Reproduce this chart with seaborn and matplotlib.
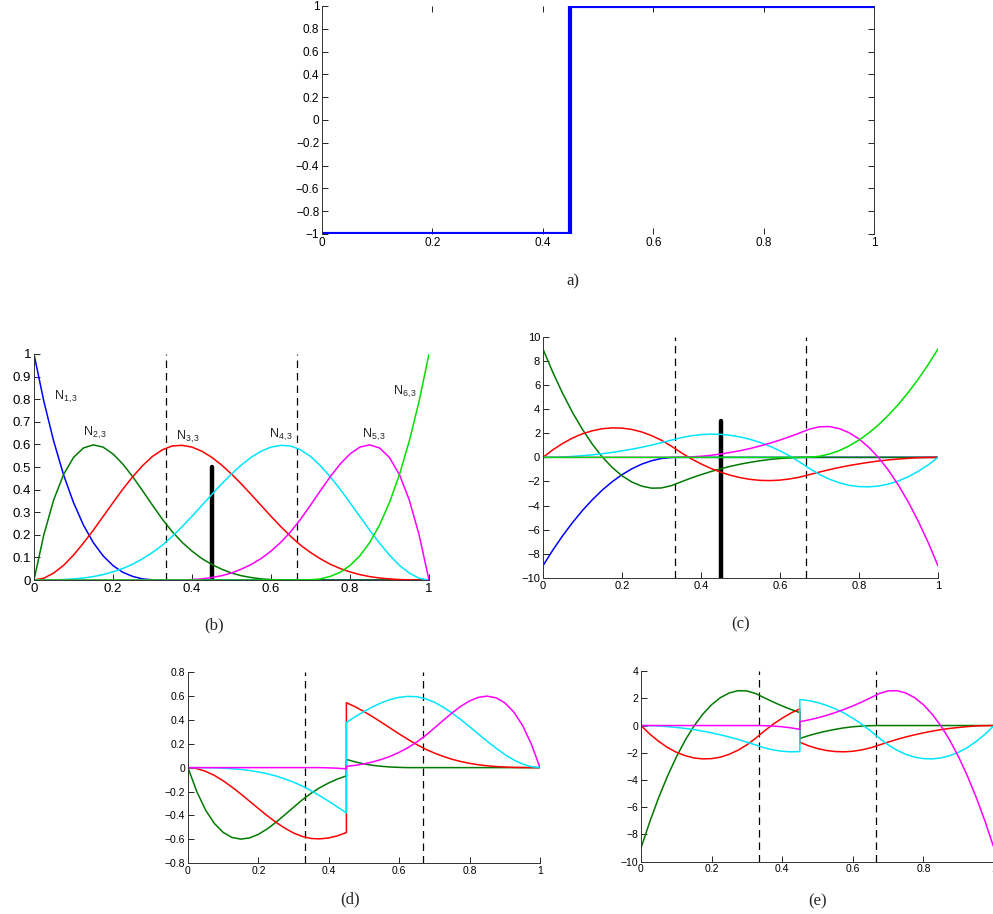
import matplotlib
matplotlib.use("Agg")
import matplotlib.pyplot as plt
import matplotlib.ticker as mticker
import numpy as np
import seaborn as sns

# Sample positions (step 0.025)
x_grid = [0.000, 0.025, 0.050, 0.075, 0.100, 0.125, 0.150, 0.175, 0.200, 0.225,
          0.250, 0.275, 0.300, 0.325, 0.350, 0.375, 0.400, 0.425, 0.450, 0.475,
          0.500, 0.525, 0.550, 0.575, 0.600, 0.625, 0.650, 0.675, 0.700, 0.725,
          0.750, 0.775, 0.800, 0.825, 0.850, 0.875, 0.900, 0.925, 0.950, 0.975,
          1.000]
# same grid with the discontinuity point (0.45) doubled
x_split = [0.000, 0.025, 0.050, 0.075, 0.100, 0.125, 0.150, 0.175, 0.200, 0.225,
           0.250, 0.275, 0.300, 0.325, 0.350, 0.375, 0.400, 0.425, 0.450, 0.450,
           0.475, 0.500, 0.525, 0.550, 0.575, 0.600, 0.625, 0.650, 0.675, 0.700,
           0.725, 0.750, 0.775, 0.800, 0.825, 0.850, 0.875, 0.900, 0.925, 0.950,
           0.975, 1.000]

knots = [1 / 3, 2 / 3]
crack_x = 0.45

# a) step function
step_x = [0.0, 0.45, 0.45, 1.0]
step_y = [-1, -1, 1, 1]

# (b) basis functions
N1 = [1.000, 0.791, 0.614, 0.465, 0.343, 0.244, 0.166, 0.107, 0.064, 0.034, 0.016,
      0.005, 0.001, 0, 0, 0, 0, 0, 0, 0, 0, 0, 0, 0, 0, 0, 0, 0, 0, 0, 0, 0, 0, 0,
      0, 0, 0, 0, 0, 0, 0]
N2 = [0, 0.200, 0.355, 0.467, 0.542, 0.584, 0.598, 0.588, 0.558, 0.513, 0.457,
      0.395, 0.331, 0.269, 0.214, 0.167, 0.128, 0.095, 0.069, 0.048, 0.031, 0.019,
      0.011, 0.005, 0.002, 0, 0, 0, 0, 0, 0, 0, 0, 0, 0, 0, 0, 0, 0, 0, 0]
N3 = [0, 0.008, 0.031, 0.065, 0.110, 0.163, 0.220, 0.281, 0.342, 0.402, 0.457,
      0.506, 0.547, 0.576, 0.593, 0.596, 0.588, 0.570, 0.543, 0.509, 0.469, 0.425,
      0.378, 0.330, 0.282, 0.236, 0.193, 0.154, 0.122, 0.094, 0.070, 0.051, 0.036,
      0.024, 0.015, 0.009, 0.005, 0.002, 0.001, 0.000, 0]
N4 = [0, 0.000, 0.001, 0.002, 0.005, 0.009, 0.015, 0.024, 0.036, 0.051, 0.070,
      0.094, 0.122, 0.154, 0.193, 0.236, 0.282, 0.330, 0.378, 0.425, 0.469, 0.509,
      0.543, 0.570, 0.588, 0.596, 0.593, 0.576, 0.547, 0.506, 0.457, 0.402, 0.342,
      0.281, 0.220, 0.163, 0.110, 0.065, 0.031, 0.008, 0]
N5 = [0, 0, 0, 0, 0, 0, 0, 0, 0, 0, 0, 0, 0, 0, 0, 0, 0.002, 0.005, 0.011, 0.019,
      0.031, 0.048, 0.069, 0.095, 0.128, 0.167, 0.214, 0.269, 0.331, 0.395, 0.457,
      0.513, 0.558, 0.588, 0.598, 0.584, 0.542, 0.467, 0.355, 0.200, 0]
N6 = [0, 0, 0, 0, 0, 0, 0, 0, 0, 0, 0, 0, 0, 0, 0, 0, 0, 0, 0, 0, 0, 0, 0, 0, 0,
      0, 0, 0, 0.001, 0.005, 0.016, 0.034, 0.064, 0.107, 0.166, 0.244, 0.343, 0.465,
      0.614, 0.791, 1.000]
basis_labels = ["N$_{1,3}$", "N$_{2,3}$", "N$_{3,3}$", "N$_{4,3}$", "N$_{5,3}$", "N$_{6,3}$"]
label_x = [0.05, 0.125, 0.36, 0.595, 0.83, 0.91]
label_y = [0.81, 0.65, 0.635, 0.64, 0.64, 0.83]

# (c) derivatives
dN1 = [-9.00, -7.70, -6.50, -5.41, -4.41, -3.52, -2.72, -2.03, -1.44, -0.95, -0.56,
       -0.28, -0.09, -0.01, 0, 0, 0, 0, 0, 0, 0, 0, 0, 0, 0, 0, 0, 0, 0, 0, 0, 0, 0,
       0, 0, 0, 0, 0, 0, 0, 0]
dN2 = [9.00, 7.06, 5.30, 3.72, 2.32, 1.09, 0.04, -0.83, -1.53, -2.05, -2.39, -2.56,
       -2.54, -2.35, -2.03, -1.72, -1.44, -1.18, -0.95, -0.74, -0.56, -0.41, -0.28,
       -0.17, -0.09, -0.04, -0.01, 0, 0, 0, 0, 0, 0, 0, 0, 0, 0, 0, 0, 0, 0]
dN3 = [0, 0.63, 1.16, 1.61, 1.96, 2.21, 2.38, 2.45, 2.43, 2.32, 2.11, 1.81, 1.42,
       0.93, 0.39, -0.11, -0.54, -0.92, -1.23, -1.49, -1.69, -1.83, -1.91, -1.93,
       -1.89, -1.79, -1.64, -1.43, -1.22, -1.02, -0.84, -0.68, -0.54, -0.41, -0.30,
       -0.21, -0.14, -0.08, -0.03, -0.01, 0]
dN4 = [0, 0.01, 0.03, 0.08, 0.14, 0.21, 0.30, 0.41, 0.54, 0.68, 0.84, 1.02, 1.22,
       1.43, 1.64, 1.79, 1.89, 1.93, 1.91, 1.83, 1.69, 1.49, 1.23, 0.92, 0.54, 0.11,
       -0.39, -0.93, -1.42, -1.81, -2.11, -2.32, -2.43, -2.45, -2.38, -2.21, -1.96,
       -1.61, -1.16, -0.63, 0]
dN5 = [0, 0, 0, 0, 0, 0, 0, 0, 0, 0, 0, 0, 0, 0, 0.01, 0.04, 0.09, 0.17, 0.28, 0.41,
       0.56, 0.74, 0.95, 1.18, 1.44, 1.72, 2.03, 2.35, 2.54, 2.56, 2.39, 2.05, 1.53,
       0.83, -0.04, -1.09, -2.32, -3.72, -5.30, -7.06, -9.00]
dN6 = [0, 0, 0, 0, 0, 0, 0, 0, 0, 0, 0, 0, 0, 0, 0, 0, 0, 0, 0, 0, 0, 0, 0, 0, 0,
       0, 0, 0.01, 0.09, 0.28, 0.56, 0.95, 1.44, 2.03, 2.72, 3.52, 4.41, 5.41, 6.50,
       7.70, 9.00]

# (d) enriched functions
eN2 = [0, -0.200, -0.355, -0.467, -0.542, -0.584, -0.598, -0.588, -0.558, -0.513,
       -0.457, -0.395, -0.331, -0.269, -0.214, -0.167, -0.128, -0.095, -0.069,
       0.069, 0.048, 0.031, 0.019, 0.011, 0.005, 0.002, 0, 0, 0, 0, 0, 0, 0, 0, 0,
       0, 0, 0, 0, 0, 0, 0]
eN3 = [0, -0.008, -0.031, -0.065, -0.110, -0.163, -0.220, -0.281, -0.342, -0.402,
       -0.457, -0.506, -0.547, -0.576, -0.593, -0.596, -0.588, -0.570, -0.543,
       0.543, 0.509, 0.469, 0.425, 0.378, 0.330, 0.282, 0.236, 0.193, 0.154, 0.122,
       0.094, 0.070, 0.051, 0.036, 0.024, 0.015, 0.009, 0.005, 0.002, 0.001, 0.000, 0]
eN4 = [0, -0.000, -0.001, -0.002, -0.005, -0.009, -0.015, -0.024, -0.036, -0.051,
       -0.070, -0.094, -0.122, -0.154, -0.193, -0.236, -0.282, -0.330, -0.378,
       0.378, 0.425, 0.469, 0.509, 0.543, 0.570, 0.588, 0.596, 0.593, 0.576, 0.547,
       0.506, 0.457, 0.402, 0.342, 0.281, 0.220, 0.163, 0.110, 0.065, 0.031, 0.008, 0]
eN5 = [0, 0, 0, 0, 0, 0, 0, 0, 0, 0, 0, 0, 0, 0, 0, 0, -0.002, -0.005, -0.011,
       0.011, 0.019, 0.031, 0.048, 0.069, 0.095, 0.128, 0.167, 0.214, 0.269, 0.331,
       0.395, 0.457, 0.513, 0.558, 0.588, 0.598, 0.584, 0.542, 0.467, 0.355, 0.200, 0]

# (e) derivatives of enriched functions
deN2 = [-9.00, -7.06, -5.30, -3.72, -2.32, -1.09, -0.04, 0.83, 1.53, 2.05, 2.39,
        2.56, 2.54, 2.35, 2.03, 1.72, 1.44, 1.18, 0.95,
        -0.95, -0.74, -0.56, -0.41, -0.28, -0.17, -0.09, -0.04, -0.01, 0, 0, 0, 0,
        0, 0, 0, 0, 0, 0, 0, 0, 0, 0]
deN3 = [0, -0.63, -1.16, -1.61, -1.96, -2.21, -2.38, -2.45, -2.43, -2.32, -2.11,
        -1.81, -1.42, -0.93, -0.39, 0.11, 0.54, 0.92, 1.23,
        -1.23, -1.49, -1.69, -1.83, -1.91, -1.93, -1.89, -1.79, -1.64, -1.43, -1.22,
        -1.02, -0.84, -0.68, -0.54, -0.41, -0.30, -0.21, -0.14, -0.08, -0.03, -0.01, 0]
deN4 = [0, -0.01, -0.03, -0.08, -0.14, -0.21, -0.30, -0.41, -0.54, -0.68, -0.84,
        -1.02, -1.22, -1.43, -1.64, -1.79, -1.89, -1.93, -1.91,
        1.91, 1.83, 1.69, 1.49, 1.23, 0.92, 0.54, 0.11, -0.39, -0.93, -1.42, -1.81,
        -2.11, -2.32, -2.43, -2.45, -2.38, -2.21, -1.96, -1.61, -1.16, -0.63, 0]
deN5 = [0, 0, 0, 0, 0, 0, 0, 0, 0, 0, 0, 0, 0, 0, -0.01, -0.04, -0.09, -0.17, -0.28,
        0.28, 0.41, 0.56, 0.74, 0.95, 1.18, 1.44, 1.72, 2.03, 2.35, 2.54, 2.56, 2.39,
        2.05, 1.53, 0.83, -0.04, -1.09, -2.32, -3.72, -5.30, -7.06, -9.00]

colors = ["#0000ff", "#007a00", "#ff0000", "#00e5ff", "#ff00ff", "#00e000"]

sns.set_theme(style="ticks")
plt.rcParams["font.family"] = ["Liberation Sans", "DejaVu Sans"]
plt.rcParams["mathtext.fontset"] = "custom"
plt.rcParams["mathtext.rm"] = "Liberation Sans"
plt.rcParams["mathtext.it"] = "Liberation Sans"

fig = plt.figure(figsize=(9.93, 9.14), dpi=100)
fmt = mticker.FuncFormatter(lambda v, p: f"{v:g}".replace("-", "\u2212"))


def matlab_axes(ax, yticks, ylim, fs):
    ax.set_xlim(0, 1)
    ax.set_ylim(*ylim)
    ax.set_xticks([0, 0.2, 0.4, 0.6, 0.8, 1])
    ax.set_yticks(yticks)
    ax.xaxis.set_major_formatter(fmt)
    ax.yaxis.set_major_formatter(fmt)
    ax.tick_params(direction="in", length=4, width=0.6, labelsize=fs, pad=2,
                   colors="black")
    for side in ["top", "right"]:
        ax.spines[side].set_visible(False)
    for side in ["left", "bottom"]:
        ax.spines[side].set_linewidth(0.7)
        ax.spines[side].set_color("#333333")
    ax.set_xlabel("")
    ax.set_ylabel("")


def knot_lines(ax):
    for k in knots:
        ax.axvline(k, color="black", linestyle=(0, (6, 4)), linewidth=0.9)


def draw(ax, x, series, cols, lw=1.1):
    for ys, c in zip(series, cols):
        sns.lineplot(x=x, y=ys, color=c, linewidth=lw, ax=ax,
                     estimator=None, sort=False)


# -------------------------
# a) step function
# -------------------------
ax_a = fig.add_axes([0.3243, 0.7440, 0.556, 0.2495])
sns.lineplot(x=step_x, y=step_y, color="#0000ff", linewidth=3.0, ax=ax_a,
             estimator=None, sort=False)
matlab_axes(ax_a, np.round(np.linspace(-1, 1, 11), 1), (-1, 1), 8.5)
ax_a.spines["right"].set_visible(True)
ax_a.spines["right"].set_linewidth(0.7)
ax_a.spines["right"].set_color("#333333")
ax_a.spines["top"].set_visible(False)
ax_a.spines["bottom"].set_visible(False)
ax_a.tick_params(top=True, right=True)
ax_a.text(0.455, -1.42, "a)", family="Liberation Serif", fontsize=12,
          ha="center", va="center")

# -------------------------
# (b) basis functions
# -------------------------
ax_b = fig.add_axes([0.0342, 0.3654, 0.3978, 0.2473])
knot_lines(ax_b)
ax_b.plot([crack_x, crack_x], [0, 0.5], color="black", linewidth=3.2)
draw(ax_b, x_grid, [N1, N2, N3, N4, N5, N6], colors)
matlab_axes(ax_b, np.round(np.linspace(0, 1, 11), 1), (0, 1), 9.5)
for lab, lx, ly in zip(basis_labels, label_x, label_y):
    ax_b.text(lx, ly, lab, fontsize=9, ha="left", va="center")
ax_b.text(0.455, -0.2, "(b)", family="Liberation Serif", fontsize=12,
          ha="center", va="center")

# -------------------------
# (c) derivatives
# -------------------------
ax_c = fig.add_axes([0.5468, 0.3679, 0.3978, 0.2634])
knot_lines(ax_c)
ax_c.plot([crack_x, crack_x], [-10, 3], color="black", linewidth=3.2)
draw(ax_c, x_grid, [dN1, dN2, dN3, dN4, dN5, dN6], colors)
matlab_axes(ax_c, np.arange(-10, 11, 2), (-10, 10), 8)
ax_c.text(0.5, -13.9, "(c)", family="Liberation Serif", fontsize=12,
          ha="center", va="center")

# -------------------------
# (d) enriched functions
# -------------------------
ax_d = fig.add_axes([0.1893, 0.0555, 0.3545, 0.2093])
knot_lines(ax_d)
draw(ax_d, x_split, [eN2, eN3, eN4, eN5], colors[1:5])
matlab_axes(ax_d, np.round(np.linspace(-0.8, 0.8, 9), 1), (-0.8, 0.8), 7.5)
ax_d.text(0.46, -1.1, "(d)", family="Liberation Serif", fontsize=12,
          ha="center", va="center")

# -------------------------
# (e) derivatives of enriched functions
# -------------------------
ax_e = fig.add_axes([0.6455, 0.0572, 0.3555, 0.2086])
knot_lines(ax_e)
draw(ax_e, x_split, [deN2, deN3, deN4, deN5], colors[1:5])
matlab_axes(ax_e, np.arange(-10, 5, 2), (-10, 4), 7.5)
ax_e.text(0.5, -12.9, "(e)", family="Liberation Serif", fontsize=12,
          ha="center", va="center")

fig.savefig("out.png", dpi=100, facecolor="white")
